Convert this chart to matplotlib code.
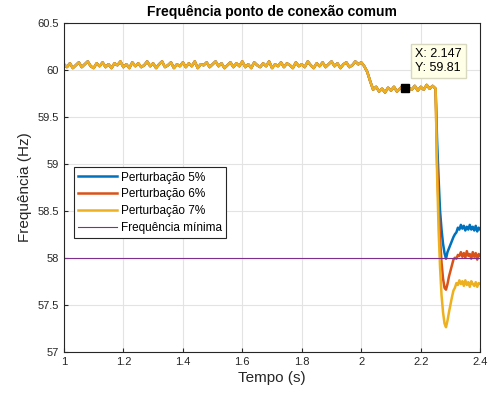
import numpy as np
import matplotlib
matplotlib.use("Agg")
import matplotlib.pyplot as plt

plt.rcParams["font.family"] = ["Liberation Sans", "DejaVu Sans"]

# shared signal before the disturbance (1.00 .. 2.24 s, step 0.01 s)
base_values = [
    60.06, 60.03, 60.07, 60.02, 60.05, 60.08, 60.03, 60.06, 60.09, 60.04,
    60.02, 60.07, 60.04, 60.08, 60.03, 60.06, 60.02, 60.07, 60.05, 60.09,
    60.03, 60.06, 60.02, 60.08, 60.04, 60.07, 60.03, 60.05, 60.09, 60.04,
    60.07, 60.02, 60.06, 60.09, 60.03, 60.05, 60.08, 60.02, 60.06, 60.04,
    60.08, 60.03, 60.07, 60.04, 60.09, 60.02, 60.06, 60.05, 60.08, 60.03,
    60.06, 60.09, 60.04, 60.07, 60.02, 60.05, 60.08, 60.03, 60.07, 60.04,
    60.09, 60.03, 60.06, 60.02, 60.08, 60.05, 60.03, 60.07, 60.04, 60.09,
    60.02, 60.06, 60.04, 60.08, 60.03, 60.07, 60.05, 60.02, 60.08, 60.04,
    60.06, 60.03, 60.09, 60.05, 60.02, 60.07, 60.04, 60.08, 60.03, 60.06,
    60.09, 60.04, 60.07, 60.02, 60.06, 60.08, 60.03, 60.05, 60.09, 60.06,
    60.08, 60.04, 59.98, 59.88, 59.79, 59.82, 59.77, 59.80, 59.76, 59.81,
    59.78, 59.82, 59.77, 59.80, 59.83, 59.78, 59.81, 59.79, 59.83, 59.78,
    59.82, 59.79, 59.84, 59.80, 59.83,
]
base_time = np.round(1.0 + 0.01 * np.arange(len(base_values)), 3)

# after the disturbance (2.250 .. 2.400 s, step 0.005 s)
tail_5 = [59.80, 59.25, 58.85, 58.50, 58.30, 58.15, 58.05, 57.99, 58.06, 58.10,
          58.14, 58.18, 58.22, 58.25, 58.27, 58.32, 58.30, 58.35, 58.31, 58.34,
          58.29, 58.33, 58.30, 58.35, 58.30, 58.33, 58.29, 58.34, 58.28, 58.32, 58.30]
tail_6 = [59.80, 59.00, 58.55, 58.20, 57.95, 57.78, 57.68, 57.66, 57.72, 57.80,
          57.86, 57.92, 57.98, 58.00, 57.99, 58.03, 58.02, 58.06, 58.01, 58.05,
          58.00, 58.07, 58.02, 58.04, 57.99, 58.06, 58.01, 58.05, 57.98, 58.04, 58.02]
tail_7 = [59.80, 58.90, 58.30, 57.90, 57.60, 57.42, 57.30, 57.26, 57.33, 57.42,
          57.50, 57.58, 57.65, 57.68, 57.73, 57.71, 57.76, 57.72, 57.75, 57.70,
          57.76, 57.71, 57.74, 57.69, 57.75, 57.72, 57.70, 57.74, 57.69, 57.73, 57.72]
tail_time = np.round(2.25 + 0.005 * np.arange(len(tail_5)), 3)

labels = ["Perturbação 5%", "Perturbação 6%", "Perturbação 7%"]
colors = ["#0072BD", "#D95319", "#EDB120"]
f_min = 58.0
tip_x, tip_y = 2.147, 59.81

fig = plt.figure(figsize=(4.88, 3.96), dpi=100)
ax = fig.add_axes([0.131, 0.112, 0.853, 0.830])

t = np.concatenate([base_time, tail_time])
for tail, lab, c in zip([tail_5, tail_6, tail_7], labels, colors):
    ax.plot(t, base_values + tail, color=c, lw=1.8, label=lab)
ax.axhline(f_min, color="#7E2F8E", lw=0.8, label="Frequência mínima")

# data tip
ax.plot([tip_x], [tip_y], "s", color="black", ms=5.5)
ax.annotate(f"X: {tip_x}\nY: {tip_y}", (tip_x, tip_y), xytext=(10, 14),
            textcoords="offset pixels", ha="left", va="bottom", fontsize=9,
            linespacing=1.2,
            bbox=dict(boxstyle="square,pad=0.35", fc="#FFFFE8", ec="#D8D8C0", lw=1))

ax.set_xlim(1, 2.4)
ax.set_ylim(57, 60.5)
ax.set_xticks(np.arange(1, 2.41, 0.2))
ax.set_yticks(np.arange(57, 60.51, 0.5))
ax.set_xticklabels(["1", "1.2", "1.4", "1.6", "1.8", "2", "2.2", "2.4"])
ax.set_yticklabels(["57", "57.5", "58", "58.5", "59", "59.5", "60", "60.5"])
ax.grid(True, color="#e3e3e3", lw=0.8)
ax.set_axisbelow(True)
ax.tick_params(direction="in", length=3, labelsize=8, colors="#262626")
for s in ax.spines.values():
    s.set_color("#262626")
    s.set_linewidth(0.8)

ax.set_xlabel("Tempo (s)", fontsize=11, color="#262626", labelpad=3)
ax.set_ylabel("Frequência (Hz)", fontsize=11, color="#262626", labelpad=4)
ax.set_title("Frequência ponto de conexão comum", fontsize=10,
             fontweight="bold", pad=5)

leg = ax.legend(loc="lower left", bbox_to_anchor=(0.024, 0.346), fontsize=8.5,
                fancybox=False, edgecolor="#262626", framealpha=1,
                borderaxespad=0, handlelength=3.3, labelspacing=0.4,
                handletextpad=0.3, borderpad=0.35)
leg.get_frame().set_linewidth(0.8)

fig.savefig("out.png", dpi=100)
